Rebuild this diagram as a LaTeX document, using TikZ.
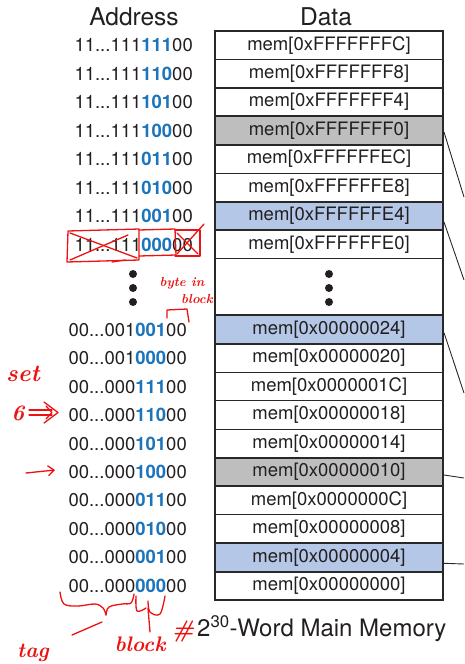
\documentclass[tikz,border=0pt]{standalone}
\usepackage{fontspec}
\newfontfamily\helv{TeX Gyre Heros}
\usetikzlibrary{arrows.meta}
\definecolor{txt}{RGB}{35,31,32}
\definecolor{bdig}{RGB}{28,117,188}
\definecolor{grayf}{RGB}{190,190,190}
\definecolor{bluef}{RGB}{180,199,231}
\definecolor{linec}{RGB}{40,40,40}
\definecolor{pen}{RGB}{236,18,18}
\newcommand\bd[1]{{\color{bdig}\bfseries #1}}
\tikzset{
  cell/.style={draw=linec, line width=1.2pt, minimum width=228pt, minimum height=28.45pt,
    inner sep=0pt, text=txt, font=\helv\fontsize{18.5}{20}\selectfont},
  graycell/.style={cell, fill=grayf, line width=2pt},
  bluecell/.style={cell, fill=bluef, line width=2pt},
  addr/.style={anchor=east, inner sep=0pt, text=txt, font=\helv\fontsize{18.5}{20}\selectfont},
  head/.style={inner sep=0pt, text=txt, font=\helv\fontsize{24.5}{26}\selectfont},
  dot/.style={circle, fill=txt, inner sep=0pt, minimum size=8pt},
  link/.style={draw=linec, line width=0.9pt},
  ink/.style={draw=pen, line width=1.3pt, line cap=round, line join=round},
  inktext/.style={text=pen, inner sep=0pt}
}
\begin{document}
\begin{tikzpicture}[x=1pt,y=-1pt]
\useasboundingbox (0,0) rectangle (464,664);
% headers
\node[head] (hA) at (134,17) {Address};
\node[head] (hD) at (326,17) {Data};
% top cells
\node[cell] (m0) at (329,45.2) {mem[0xFFFFFFFC]};
\node[cell] (m1) at (329,73.7) {mem[0xFFFFFFF8]};
\node[cell] (m2) at (329,102.1) {mem[0xFFFFFFF4]};
\node[cell] (m4) at (329,159.0) {mem[0xFFFFFFEC]};
\node[cell] (m5) at (329,187.5) {mem[0xFFFFFFE8]};
\node[cell] (m7) at (329,244.5) {mem[0xFFFFFFE0]};
\node[cell, minimum height=56.9pt] (mdots) at (329,287.05) {};
% bottom cells
\node[cell] (n1) at (329,358.2) {mem[0x00000020]};
\node[cell] (n2) at (329,386.6) {mem[0x0000001C]};
\node[cell] (n3) at (329,415.1) {mem[0x00000018]};
\node[cell] (n4) at (329,443.5) {mem[0x00000014]};
\node[cell] (n6) at (329,500.4) {mem[0x0000000C]};
\node[cell] (n7) at (329,528.9) {mem[0x00000008]};
\node[cell] (n9) at (329,585.8) {mem[0x00000000]};
% highlighted cells
\node[graycell] (m3) at (329,130.6) {mem[0xFFFFFFF0]};
\node[bluecell] (m6) at (329,216.0) {mem[0xFFFFFFE4]};
\node[bluecell] (n0) at (329,329.7) {mem[0x00000024]};
\node[graycell] (n5) at (329,472.0) {mem[0x00000010]};
\node[bluecell] (n8) at (329,557.3) {mem[0x00000004]};
% outer frame
\node[draw=linec, line width=2pt, minimum width=228pt, minimum height=569pt, inner sep=0pt] (frame) at (329,315.5) {};
% dots
\node[dot] (dd1) at (329,274) {};
\node[dot] (dd2) at (329,288) {};
\node[dot] (dd3) at (329,302) {};
\node[dot] (ad1) at (133,274) {};
\node[dot] (ad2) at (133,288) {};
\node[dot] (ad3) at (133,302) {};
% addresses
\node[addr] (a0) at (193,45.2) {11...111\bd{111}00};
\node[addr] (a1) at (193,73.7) {11...111\bd{110}00};
\node[addr] (a2) at (193,102.1) {11...111\bd{101}00};
\node[addr] (a3) at (193,130.6) {11...111\bd{100}00};
\node[addr] (a4) at (193,159.0) {11...111\bd{011}00};
\node[addr] (a5) at (193,187.5) {11...111\bd{010}00};
\node[addr] (a6) at (193,216.0) {11...111\bd{001}00};
\node[addr] (a7) at (193,244.5) {11...111\bd{000}00};
\node[addr] (b0) at (187,329.7) {00...001\bd{001}00};
\node[addr] (b1) at (187,358.2) {00...001\bd{000}00};
\node[addr] (b2) at (187,386.6) {00...000\bd{111}00};
\node[addr] (b3) at (187,415.1) {00...000\bd{110}00};
\node[addr] (b4) at (187,443.5) {00...000\bd{101}00};
\node[addr] (b5) at (187,472.0) {00...000\bd{100}00};
\node[addr] (b6) at (187,500.4) {00...000\bd{011}00};
\node[addr] (b7) at (187,528.9) {00...000\bd{010}00};
\node[addr] (b8) at (187,557.3) {00...000\bd{001}00};
\node[addr] (b9) at (187,585.8) {00...000\bd{000}00};
% caption
\node[anchor=west, inner sep=0pt, text=txt, font=\helv\fontsize{24}{26}\selectfont] (cap) at (197,629) {2\textsuperscript{30}-Word Main Memory};
% links to the right
\coordinate (e3) at (464,197);
\coordinate (e6) at (464,280);
\coordinate (f0) at (464,393);
\coordinate (f5) at (464,478);
\coordinate (f8) at (464,564);
\draw[link] (m3.east) ++(0,1.5) -- (e3);
\draw[link] (m6.east) ++(0,6) -- (e6);
\draw[link] (n0.east) ++(0,3) -- (f0);
\draw[link] (n5.east) ++(0,3) -- (f5);
\draw[link] (n8.east) ++(0,6) -- (f8);
% red annotations
\draw[ink] (68,231) -- (139,229) -- (139,260) -- (67,262) -- cycle;
\draw[ink] (70,233) -- (137,258);
\draw[ink] (70,260) -- (128,235);
\draw[ink] (139,230) -- (175,229) -- (176,255) -- (139,256);
\draw[ink] (175,230) -- (200,230) -- (200,256) -- (175,256);
\draw[ink] (177,233) -- (198,254);
\draw[ink] (177,254) -- (204,224);
\draw[ink] (112,262) -- (125,260);
\node[inktext, font=\bfseries\itshape\fontsize{13}{13}\selectfont] (tb1) at (182,283) {byte in};
\node[inktext, font=\bfseries\itshape\fontsize{13}{13}\selectfont] (tb2) at (197,299) {block};
\draw[ink] (167,318) -- (167,310) -- (187,309) -- (189,322);
\node[inktext, font=\bfseries\itshape\fontsize{24}{24}\selectfont] (tset) at (23,374) {set};
\node[inktext, font=\bfseries\itshape\fontsize{22}{22}\selectfont] (tsix) at (18,413) {6};
\draw[ink] (29,410) -- (52,410);
\draw[ink] (29,415) -- (52,415);
\draw[ink] (44,402) -- (58,412.5) -- (44,423);
\draw[ink] (46,406) -- (52,412.5) -- (46,419);
\coordinate (ar0) at (26,473);
\coordinate (ar1) at (55,470);
\draw[ink, -{Straight Barb[length=6pt, width=10pt]}] (ar0) -- (ar1);
\draw[ink] plot[smooth, tension=0.6] coordinates {(60,592) (64,604) (78,606) (95,604) (103,608) (106,615)};
\draw[ink] plot[smooth, tension=0.6] coordinates {(106,615) (109,607) (122,604) (131,603) (134,594)};
\draw[ink] plot[smooth, tension=0.6] coordinates {(136,596) (137,611) (146,608)};
\draw[ink] plot[smooth, tension=0.6] coordinates {(148,601) (150,612) (160,614) (165,596)};
\draw[ink] (148,608) -- (150,632);
\draw[ink] (72,635) -- (102,622);
\node[inktext, font=\bfseries\itshape\fontsize{21}{21}\selectfont] (ttag) at (33,653) {tag};
\node[inktext, font=\bfseries\itshape\fontsize{21}{21}\selectfont] (tblock) at (140,644) {block};
\node[inktext, font=\bfseries\itshape\fontsize{24}{24}\selectfont] (thash) at (183,631) {\#};
\end{tikzpicture}
\end{document}
